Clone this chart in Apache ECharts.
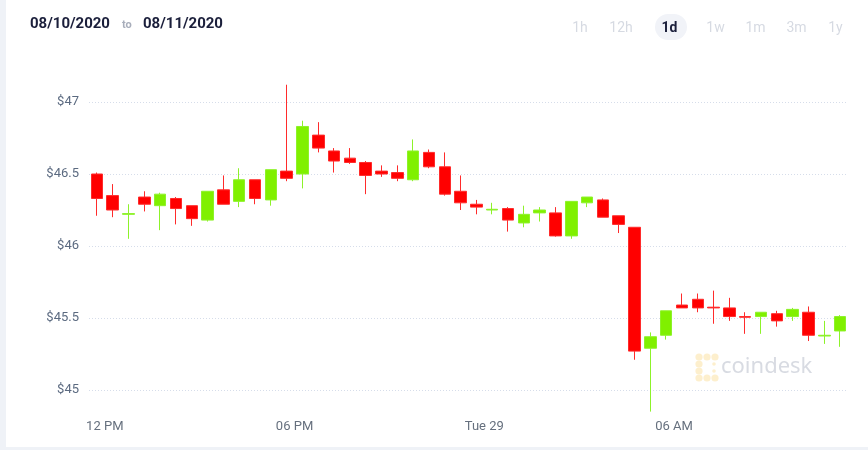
<!DOCTYPE html>
<html>
<head>
<meta charset="utf-8">
<script src="https://cdn.jsdelivr.net/npm/echarts@6/dist/echarts.min.js"></script>
<style>
html,body{margin:0;padding:0;background:#fff;}
#chart{width:868px;height:450px;}
</style>
</head>
<body>
<div id="chart"></div>
<script>
// hours since Monday 00:00 (candle centres, 30-minute candles)
const hours = [11.75,12.25,12.75,13.25,13.75,14.25,14.75,15.25,15.75,16.25,16.75,17.25,
  17.75,18.25,18.75,19.25,19.75,20.25,20.75,21.25,21.75,22.25,22.75,23.25,
  23.75,24.25,24.75,25.25,25.75,26.25,26.75,27.25,27.75,28.25,28.75,29.25,
  29.75,30.25,30.75,31.25,31.75,32.25,32.75,33.25,33.75,34.25,34.75,35.25];
const openV  = [46.50,46.35,46.22,46.34,46.28,46.33,46.28,46.18,46.39,46.31,46.46,46.32,
  46.52,46.50,46.77,46.66,46.61,46.58,46.52,46.51,46.46,46.65,46.55,46.38,
  46.29,46.25,46.26,46.16,46.23,46.23,46.07,46.30,46.32,46.21,46.13,45.29,
  45.38,45.59,45.63,45.575,45.57,45.51,45.51,45.53,45.51,45.54,45.375,45.41];
const closeV = [46.33,46.25,46.225,46.29,46.36,46.26,46.19,46.38,46.29,46.46,46.33,46.53,
  46.47,46.83,46.68,46.59,46.58,46.49,46.50,46.47,46.66,46.55,46.36,46.30,
  46.27,46.255,46.18,46.22,46.25,46.07,46.31,46.34,46.20,46.15,45.27,45.37,
  45.55,45.57,45.57,45.57,45.51,45.505,45.54,45.48,45.56,45.38,45.38,45.51];
const lowV   = [46.21,46.20,46.05,46.24,46.11,46.15,46.14,46.17,46.29,46.27,46.29,46.28,
  46.45,46.40,46.65,46.51,46.57,46.36,46.48,46.45,46.45,46.54,46.35,46.25,
  46.22,46.22,46.10,46.13,46.17,46.065,46.05,46.27,46.20,46.09,45.21,44.85,
  45.35,45.57,45.54,45.46,45.48,45.39,45.39,45.44,45.48,45.34,45.32,45.30];
const highV  = [46.51,46.43,46.29,46.38,46.37,46.34,46.28,46.38,46.49,46.54,46.46,46.53,
  47.12,46.87,46.86,46.68,46.68,46.59,46.56,46.56,46.74,46.67,46.65,46.49,
  46.32,46.30,46.27,46.28,46.27,46.27,46.31,46.34,46.33,46.21,46.13,45.40,
  45.55,45.67,45.67,45.69,45.64,45.54,45.54,45.55,45.57,45.58,45.48,45.52];
const xTickLabels = {12:'12 PM', 18:'06 PM', 24:'Tue 29', 30:'06 AM'};
const rangeButtons = ['1h','12h','1d','1w','1m','3m','1y'];
const buttonCenters = [580,621,669.5,715.5,755.5,796.5,835.5];

const candleData = hours.map((h,i)=>[h, openV[i], closeV[i], lowV[i], highV[i]]);

const chart = echarts.init(document.getElementById('chart'), null, {renderer:'canvas'});

const graphics = [
  {type:'rect', shape:{x:0,y:0,width:6,height:450}, style:{fill:'#eff2f7'}, silent:true},
  {type:'rect', shape:{x:0,y:447,width:868,height:3}, style:{fill:'#eff2f7'}, silent:true},
  {type:'text', x:30, y:24, style:{text:'08/10/2020', fill:'#1b1f3b', font:'bold 15px Roboto', textVerticalAlign:'middle'}},
  {type:'text', x:122, y:25, style:{text:'to', fill:'#a8aebb', font:'bold 11px Roboto', textVerticalAlign:'middle'}},
  {type:'text', x:143, y:24, style:{text:'08/11/2020', fill:'#1b1f3b', font:'bold 15px Roboto', textVerticalAlign:'middle'}},
  {type:'rect', shape:{x:655,y:14,width:32,height:26,r:13}, style:{fill:'#f1f3f8'}},
  // watermark
  {type:'text', x:721, y:367, style:{text:'coindesk', fill:'#d8dbe2', font:'22px "Noto Sans"', textVerticalAlign:'middle'}}
];
rangeButtons.forEach((b,i)=>{
  const active = b==='1d';
  graphics.push({type:'text', x:buttonCenters[i], y:28, style:{text:b, fill: active?'#1b1f3b':'#d6dae2',
    font:(active?'bold ':'')+'14px Roboto', textAlign:'center', textVerticalAlign:'middle'}});
});
// watermark icon (pale dots)
[[699,357],[707,357],[715,357],[699,364],[699,371],[699,378],[707,378],[715,378]].forEach(p=>{
  graphics.push({type:'circle', shape:{cx:p[0],cy:p[1],r:3.6}, style:{fill:'#fdefcd'}});
});
[[714,364],[714,371]].forEach(p=>{
  graphics.push({type:'circle', shape:{cx:p[0],cy:p[1],r:1.8}, style:{fill:'#fdefcd'}});
});

chart.setOption({
  animation:false,
  backgroundColor:'#ffffff',
  grid:{left:89, right:20, top:30, bottom:-12, outerBoundsMode:'none', containLabel:false},
  xAxis:{
    type:'value', min:11.5, max:35.5, interval:0.5, offset:-50,
    axisLine:{show:false}, axisTick:{show:false}, splitLine:{show:false},
    axisLabel:{
      margin:8, color:'#66707e', fontSize:13, fontFamily:'Roboto',
      formatter:(v)=> xTickLabels[v] || ''
    }
  },
  yAxis:{
    type:'value', min:44.5, max:47.5, interval:0.5, scale:true,
    axisLine:{show:false}, axisTick:{show:false},
    axisLabel:{
      margin:10, color:'#5b6a80', fontSize:13, fontFamily:'Roboto',
      showMinLabel:false, showMaxLabel:false,
      formatter:(v)=> '$' + v
    },
    splitLine:{show:true, showMinLine:false, showMaxLine:false,
      lineStyle:{color:'#d6ddea', type:[1,2], width:1}}
  },
  series:[{
    type:'candlestick',
    data:candleData,
    encode:{x:0, y:[1,2,3,4]},
    barWidth:12,
    itemStyle:{
      color:'#80f000', color0:'#ff0000',
      borderColor:'#8df22a', borderColor0:'#ff2b2b', borderWidth:1
    }
  }],
  graphic:graphics
});
</script>
</body>
</html>
